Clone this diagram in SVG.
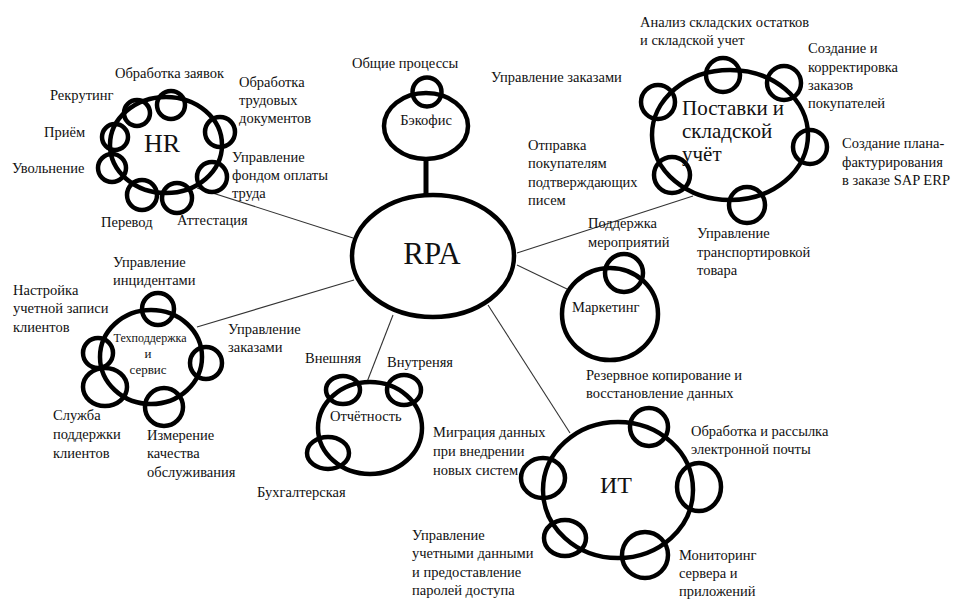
<svg xmlns="http://www.w3.org/2000/svg" width="956" height="599" viewBox="0 0 956 599">
<style>
.c{fill:none;stroke:#000;stroke-width:4.5}
.t{font-family:"Liberation Serif","Times New Roman",serif;font-size:14.5px;fill:#111}
.e{stroke:#333;stroke-width:1.1;fill:none}
.m{text-anchor:middle}
</style>
<rect width="956" height="599" fill="#fff"/>
<g id="connectors">
<line class="e" x1="197" y1="188" x2="353" y2="238"/>
<line class="e" x1="197" y1="327" x2="354" y2="280"/>
<line class="e" x1="393" y1="315" x2="367" y2="382"/>
<line class="e" x1="488" y1="305" x2="570" y2="433"/>
<line class="e" x1="517" y1="265" x2="567" y2="289"/>
<line class="e" x1="517" y1="253" x2="693" y2="196"/>
<line x1="426" y1="158" x2="426" y2="196" stroke="#000" stroke-width="5"/>
</g>
<g id="rpa">
<ellipse class="c" cx="433" cy="256" rx="81" ry="61"/>
<text class="t m" x="432" y="264" style="font-size:31px">RPA</text>
</g>
<g id="backoffice">
<ellipse class="c" cx="426" cy="126" rx="42" ry="33"/>
<circle class="c" cx="427" cy="92" r="14.5"/>
<text class="t m" x="426" y="125">Бэкофис</text>
<text class="t" x="352" y="68">Общие процессы</text>
</g>
<g id="hr">
<ellipse class="c" cx="166" cy="145" rx="56" ry="48"/>
<circle class="c" cx="171" cy="105" r="14"/>
<circle class="c" cx="137" cy="113" r="13"/>
<circle class="c" cx="115" cy="137" r="13"/>
<circle class="c" cx="112" cy="168" r="14"/>
<circle class="c" cx="142" cy="195" r="15"/>
<circle class="c" cx="177" cy="198" r="15"/>
<circle class="c" cx="212" cy="177" r="15"/>
<circle class="c" cx="220" cy="132" r="15"/>
<text class="t m" x="162" y="152" style="font-size:26px">HR</text>
<text class="t" x="115" y="78">Обработка заявок</text>
<text class="t" x="239" y="87">Обработка</text>
<text class="t" x="239" y="105">трудовых</text>
<text class="t" x="239" y="123">документов</text>
<text class="t" x="50" y="100">Рекрутинг</text>
<text class="t" x="44" y="137">Приём</text>
<text class="t" x="12" y="173">Увольнение</text>
<text class="t" x="232" y="162">Управление</text>
<text class="t" x="232" y="180">фондом оплаты</text>
<text class="t" x="232" y="198">труда</text>
<text class="t" x="101" y="227">Перевод</text>
<text class="t" x="177" y="225">Аттестация</text>
</g>
<g id="supply">
<ellipse class="c" cx="730" cy="135" rx="78" ry="65"/>
<circle class="c" cx="723" cy="75" r="17"/>
<circle class="c" cx="784" cy="83" r="17"/>
<circle class="c" cx="658" cy="102" r="17"/>
<circle class="c" cx="810" cy="147" r="17"/>
<circle class="c" cx="672" cy="175" r="18"/>
<circle class="c" cx="747" cy="205" r="18"/>
<text class="t" x="682" y="115" style="font-size:21px">Поставки и</text>
<text class="t" x="682" y="138" style="font-size:21px">складской</text>
<text class="t" x="682" y="161" style="font-size:21px">учёт</text>
<text class="t" x="640" y="27">Анализ складских остатков</text>
<text class="t" x="640" y="45">и складской учет</text>
<text class="t" x="808" y="53">Создание и</text>
<text class="t" x="808" y="72">корректировка</text>
<text class="t" x="808" y="90">заказов</text>
<text class="t" x="808" y="108">покупателей</text>
<text class="t" x="842" y="148">Создание плана-</text>
<text class="t" x="842" y="167">фактурирования</text>
<text class="t" x="842" y="185">в заказе SAP ERP</text>
<text class="t" x="491" y="82">Управление заказами</text>
<text class="t" x="528" y="150">Отправка</text>
<text class="t" x="528" y="168">покупателям</text>
<text class="t" x="528" y="187">подтверждающих</text>
<text class="t" x="528" y="205">писем</text>
<text class="t" x="697" y="238">Управление</text>
<text class="t" x="697" y="257">транспортировкой</text>
<text class="t" x="697" y="275">товара</text>
</g>
<g id="marketing">
<ellipse class="c" cx="610" cy="314" rx="48" ry="46"/>
<circle class="c" cx="624" cy="273" r="19"/>
<text class="t" x="572" y="312">Маркетинг</text>
<text class="t" x="588" y="228">Поддержка</text>
<text class="t" x="588" y="247">мероприятий</text>
</g>
<g id="support">
<ellipse class="c" cx="151" cy="357" rx="51" ry="47"/>
<circle class="c" cx="158" cy="309" r="16"/>
<circle class="c" cx="98" cy="353" r="15"/>
<circle class="c" cx="206" cy="363" r="16"/>
<ellipse class="c" cx="105" cy="387" rx="22" ry="19"/>
<circle class="c" cx="164" cy="407" r="19"/>
<text class="t m" x="150" y="342" style="font-size:12px">Техподдержка</text>
<text class="t m" x="148" y="358" style="font-size:13px">и</text>
<text class="t m" x="148" y="374" style="font-size:13px">сервис</text>
<text class="t" x="113" y="267">Управление</text>
<text class="t" x="113" y="285">инцидентами</text>
<text class="t" x="13" y="295">Настройка</text>
<text class="t" x="13" y="313">учетной записи</text>
<text class="t" x="13" y="332">клиентов</text>
<text class="t" x="228" y="334">Управление</text>
<text class="t" x="228" y="352">заказами</text>
<text class="t" x="53" y="420">Служба</text>
<text class="t" x="53" y="439">поддержки</text>
<text class="t" x="53" y="458">клиентов</text>
<text class="t" x="147" y="440">Измерение</text>
<text class="t" x="147" y="458">качества</text>
<text class="t" x="147" y="477">обслуживания</text>
</g>
<g id="reporting">
<ellipse class="c" cx="370" cy="428" rx="52" ry="46"/>
<ellipse class="c" cx="343" cy="390" rx="17" ry="14"/>
<ellipse class="c" cx="404" cy="390" rx="17" ry="15"/>
<ellipse class="c" cx="328" cy="453" rx="21" ry="16"/>
<text class="t" x="330" y="421">Отчётность</text>
<text class="t" x="305" y="363">Внешняя</text>
<text class="t" x="387" y="367">Внутреняя</text>
<text class="t" x="257" y="497">Бухгалтерская</text>
</g>
<g id="it">
<ellipse class="c" cx="618" cy="490" rx="75" ry="68"/>
<circle class="c" cx="649" cy="427" r="19"/>
<ellipse class="c" cx="699" cy="487" rx="22" ry="24"/>
<ellipse class="c" cx="543" cy="478" rx="22" ry="20"/>
<ellipse class="c" cx="565" cy="538" rx="21" ry="18"/>
<circle class="c" cx="645" cy="555" r="23"/>
<text class="t" x="600" y="493" style="font-size:24px">ИТ</text>
<text class="t" x="586" y="380">Резервное копирование и</text>
<text class="t" x="586" y="398">восстановление данных</text>
<text class="t" x="691" y="436">Обработка и рассылка</text>
<text class="t" x="691" y="454">электронной почты</text>
<text class="t" x="433" y="437">Миграция данных</text>
<text class="t" x="433" y="456">при внедрении</text>
<text class="t" x="433" y="475">новых систем</text>
<text class="t" x="412" y="540">Управление</text>
<text class="t" x="412" y="558">учетными данными</text>
<text class="t" x="412" y="577">и предоставление</text>
<text class="t" x="412" y="595">паролей доступа</text>
<text class="t" x="679" y="560">Мониторинг</text>
<text class="t" x="679" y="578">сервера и</text>
<text class="t" x="679" y="596">приложений</text>
</g>
</svg>
